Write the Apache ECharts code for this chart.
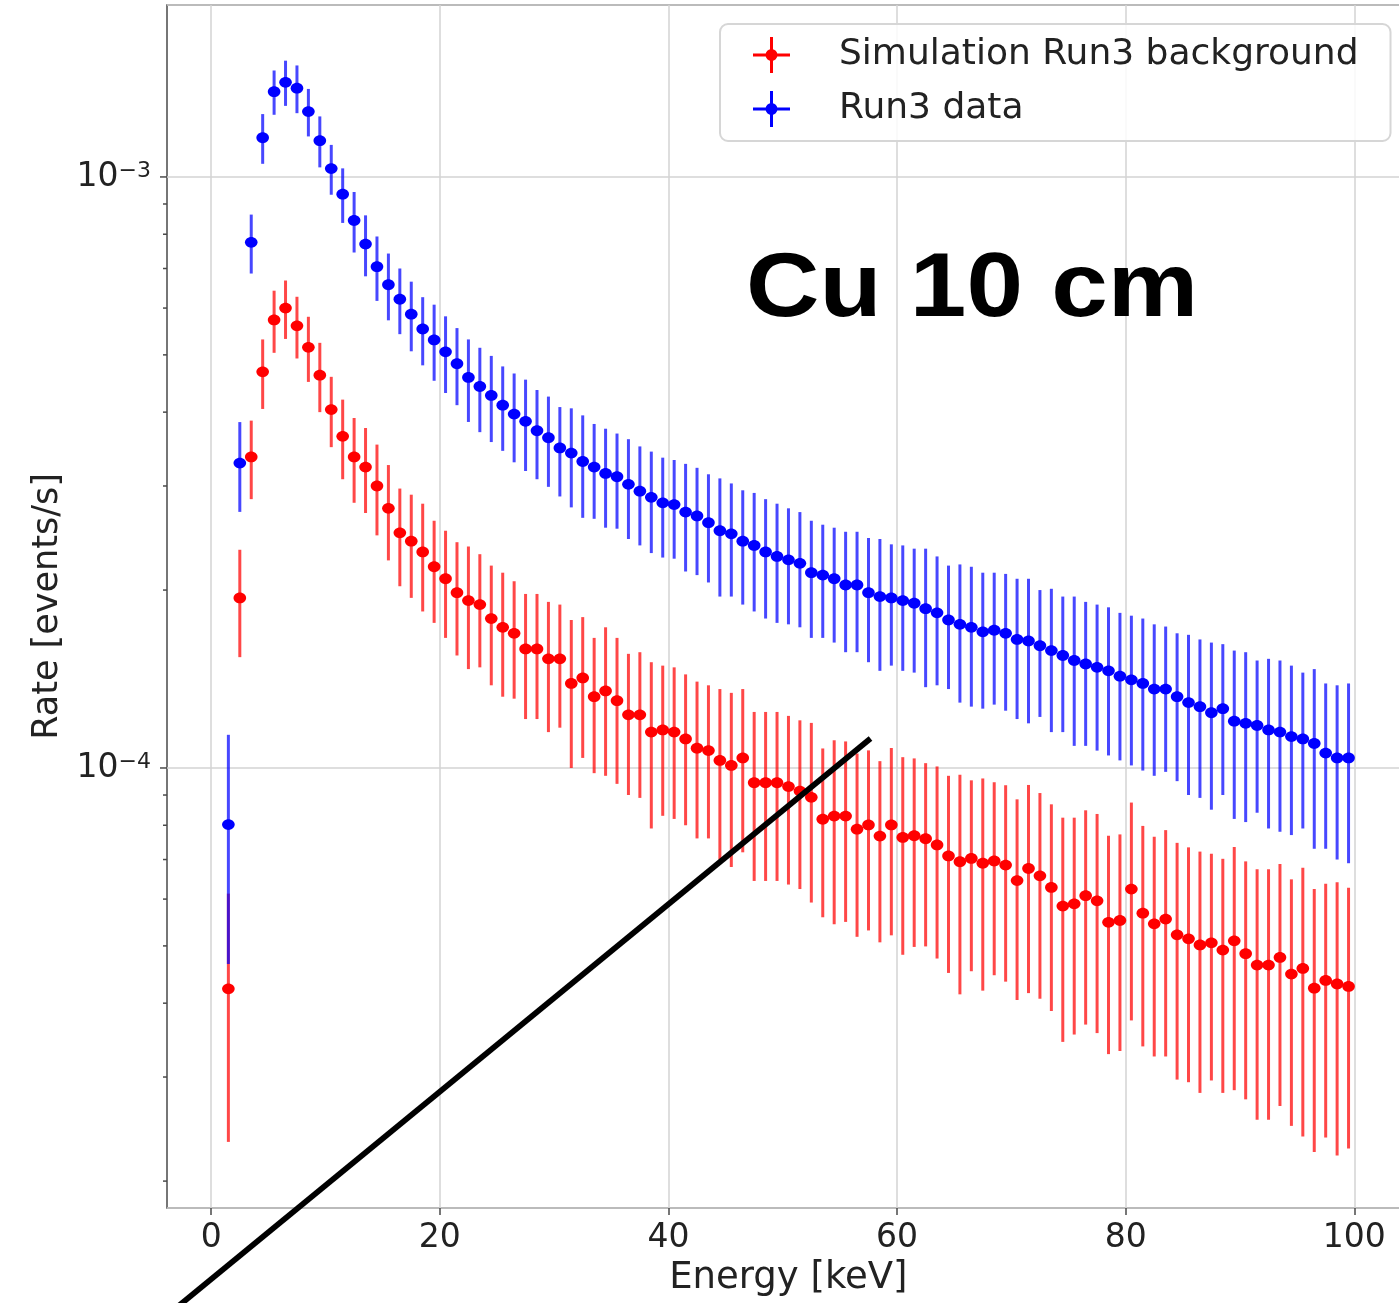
<!DOCTYPE html>
<html>
<head>
<meta charset="utf-8">
<script src="https://cdn.jsdelivr.net/npm/echarts@6/dist/echarts.min.js"></script>
<style>
html, body { margin: 0; padding: 0; background: #ffffff; }
#chart { width: 1399px; height: 1303px; }
</style>
</head>
<body>
<div id="chart"></div>
<script>
// ---------------- data ----------------
const energy = [
  1.5, 2.5, 3.5, 4.5, 5.5, 6.5, 7.5, 8.5, 9.5, 10.5,
  11.5, 12.5, 13.5, 14.5, 15.5, 16.5, 17.5, 18.5, 19.5, 20.5,
  21.5, 22.5, 23.5, 24.5, 25.5, 26.5, 27.5, 28.5, 29.5, 30.5,
  31.5, 32.5, 33.5, 34.5, 35.5, 36.5, 37.5, 38.5, 39.5, 40.5,
  41.5, 42.5, 43.5, 44.5, 45.5, 46.5, 47.5, 48.5, 49.5, 50.5,
  51.5, 52.5, 53.5, 54.5, 55.5, 56.5, 57.5, 58.5, 59.5, 60.5,
  61.5, 62.5, 63.5, 64.5, 65.5, 66.5, 67.5, 68.5, 69.5, 70.5,
  71.5, 72.5, 73.5, 74.5, 75.5, 76.5, 77.5, 78.5, 79.5, 80.5,
  81.5, 82.5, 83.5, 84.5, 85.5, 86.5, 87.5, 88.5, 89.5, 90.5,
  91.5, 92.5, 93.5, 94.5, 95.5, 96.5, 97.5, 98.5, 99.5
];

// Simulation Run3 background (red), events/s
const simRate = [
  4.23e-5, 1.94e-4, 3.36e-4, 4.68e-4, 5.73e-4, 6.00e-4, 5.60e-4, 5.15e-4, 4.62e-4, 4.04e-4,
  3.64e-4, 3.36e-4, 3.23e-4, 3.00e-4, 2.75e-4, 2.50e-4, 2.42e-4, 2.32e-4, 2.19e-4, 2.09e-4,
  1.98e-4, 1.92e-4, 1.89e-4, 1.79e-4, 1.73e-4, 1.69e-4, 1.59e-4, 1.59e-4, 1.53e-4, 1.53e-4,
  1.39e-4, 1.42e-4, 1.32e-4, 1.35e-4, 1.30e-4, 1.23e-4, 1.23e-4, 1.15e-4, 1.16e-4, 1.15e-4,
  1.12e-4, 1.08e-4, 1.07e-4, 1.03e-4, 1.01e-4, 1.04e-4, 9.44e-5, 9.44e-5, 9.44e-5, 9.30e-5,
  9.14e-5, 8.92e-5, 8.19e-5, 8.29e-5, 8.29e-5, 7.88e-5, 8.01e-5, 7.67e-5, 8.01e-5, 7.63e-5,
  7.68e-5, 7.59e-5, 7.41e-5, 7.10e-5, 6.94e-5, 7.03e-5, 6.90e-5, 6.96e-5, 6.85e-5, 6.45e-5,
  6.76e-5, 6.57e-5, 6.28e-5, 5.84e-5, 5.89e-5, 6.08e-5, 5.96e-5, 5.48e-5, 5.52e-5, 6.24e-5,
  5.68e-5, 5.45e-5, 5.55e-5, 5.22e-5, 5.14e-5, 5.02e-5, 5.06e-5, 4.92e-5, 5.10e-5, 4.85e-5,
  4.64e-5, 4.64e-5, 4.78e-5, 4.48e-5, 4.58e-5, 4.24e-5, 4.37e-5, 4.31e-5, 4.27e-5
];
const simErr = [
  1.90e-5, 4.0e-5, 5.1e-5, 6.3e-5, 6.9e-5, 6.8e-5, 6.7e-5, 6.5e-5, 6.2e-5, 5.5e-5,
  5.6e-5, 5.5e-5, 5.3e-5, 5.25e-5, 5.05e-5, 4.7e-5, 4.8e-5, 4.8e-5, 4.3e-5, 4.3e-5,
  4.3e-5, 4.5e-5, 4.1e-5, 4.1e-5, 4.1e-5, 3.8e-5, 3.8e-5, 3.8e-5, 3.8e-5, 3.6e-5,
  3.9e-5, 3.8e-5, 3.4e-5, 3.8e-5, 3.6e-5, 3.3e-5, 3.4e-5, 3.6e-5, 3.3e-5, 3.3e-5,
  3.2e-5, 3.2e-5, 3.1e-5, 3.3e-5, 3.3e-5, 3.2e-5, 3.0e-5, 3.0e-5, 3.0e-5, 2.95e-5,
  2.9e-5, 3.0e-5, 2.6e-5, 2.85e-5, 2.8e-5, 2.7e-5, 2.7e-5, 2.6e-5, 2.8e-5, 2.8e-5,
  2.7e-5, 2.6e-5, 2.65e-5, 2.6e-5, 2.8e-5, 2.5e-5, 2.7e-5, 2.5e-5, 2.5e-5, 2.4e-5,
  2.6e-5, 2.5e-5, 2.4e-5, 2.4e-5, 2.35e-5, 2.4e-5, 2.4e-5, 2.2e-5, 2.2e-5, 2.5e-5,
  2.3e-5, 2.2e-5, 2.3e-5, 2.25e-5, 2.2e-5, 2.2e-5, 2.1e-5, 2.1e-5, 2.25e-5, 2.1e-5,
  2.1e-5, 2.1e-5, 2.1e-5, 2.0e-5, 2.2e-5, 2.0e-5, 2.0e-5, 2.1e-5, 2.0e-5
];

// Run3 data (blue), events/s
const dataRate = [
  8.02e-5, 3.28e-4, 7.75e-4, 1.165e-3, 1.394e-3, 1.446e-3, 1.413e-3, 1.290e-3, 1.152e-3, 1.033e-3,
  9.35e-4, 8.44e-4, 7.70e-4, 7.05e-4, 6.57e-4, 6.21e-4, 5.86e-4, 5.53e-4, 5.30e-4, 5.06e-4,
  4.83e-4, 4.58e-4, 4.42e-4, 4.27e-4, 4.11e-4, 3.97e-4, 3.86e-4, 3.72e-4, 3.62e-4, 3.48e-4,
  3.41e-4, 3.30e-4, 3.23e-4, 3.15e-4, 3.11e-4, 3.02e-4, 2.94e-4, 2.87e-4, 2.81e-4, 2.79e-4,
  2.71e-4, 2.67e-4, 2.60e-4, 2.52e-4, 2.49e-4, 2.42e-4, 2.38e-4, 2.32e-4, 2.28e-4, 2.25e-4,
  2.22e-4, 2.14e-4, 2.12e-4, 2.09e-4, 2.04e-4, 2.04e-4, 1.98e-4, 1.95e-4, 1.94e-4, 1.92e-4,
  1.90e-4, 1.86e-4, 1.83e-4, 1.78e-4, 1.75e-4, 1.73e-4, 1.70e-4, 1.71e-4, 1.69e-4, 1.65e-4,
  1.64e-4, 1.61e-4, 1.58e-4, 1.55e-4, 1.52e-4, 1.50e-4, 1.48e-4, 1.46e-4, 1.43e-4, 1.41e-4,
  1.39e-4, 1.36e-4, 1.36e-4, 1.32e-4, 1.29e-4, 1.27e-4, 1.24e-4, 1.26e-4, 1.20e-4, 1.19e-4,
  1.18e-4, 1.16e-4, 1.15e-4, 1.13e-4, 1.12e-4, 1.10e-4, 1.06e-4, 1.04e-4, 1.04e-4
];
const dataErr = [
  3.36e-5, 5.68e-5, 8.86e-5, 1.125e-4, 1.20e-4, 1.27e-4, 1.31e-4, 1.19e-4, 1.14e-4, 1.00e-4,
  9.9e-5, 9.9e-5, 9.1e-5, 8.8e-5, 8.5e-5, 7.9e-5, 7.9e-5, 7.3e-5, 7.8e-5, 7.5e-5,
  7.2e-5, 7.3e-5, 7.2e-5, 7.1e-5, 6.7e-5, 6.8e-5, 6.8e-5, 6.4e-5, 6.3e-5, 6.0e-5,
  6.5e-5, 6.5e-5, 5.9e-5, 6.0e-5, 5.7e-5, 5.8e-5, 5.6e-5, 5.6e-5, 5.4e-5, 5.3e-5,
  5.6e-5, 5.5e-5, 5.4e-5, 5.7e-5, 5.4e-5, 5.3e-5, 5.4e-5, 5.3e-5, 5.2e-5, 5.0e-5,
  4.9e-5, 4.8e-5, 4.6e-5, 4.6e-5, 4.7e-5, 4.7e-5, 4.7e-5, 4.9e-5, 4.5e-5, 4.6e-5,
  4.5e-5, 4.9e-5, 4.5e-5, 4.2e-5, 4.6e-5, 4.6e-5, 4.4e-5, 4.3e-5, 4.4e-5, 4.4e-5,
  4.5e-5, 3.9e-5, 4.3e-5, 4.0e-5, 4.3e-5, 4.1e-5, 4.1e-5, 4.1e-5, 4.0e-5, 4.0e-5,
  4.0e-5, 3.9e-5, 3.75e-5, 3.7e-5, 3.9e-5, 3.8e-5, 3.9e-5, 3.6e-5, 3.8e-5, 3.8e-5,
  3.4e-5, 3.7e-5, 3.7e-5, 3.6e-5, 3.3e-5, 3.7e-5, 3.3e-5, 3.4e-5, 3.5e-5
];

const seriesNames = ['Simulation Run3 background', 'Run3 data'];
const xTicks = [0, 20, 40, 60, 80, 100];
const yMajorTicks = [1e-4, 1e-3];
const yMinorTicks = [2e-5, 3e-5, 4e-5, 5e-5, 6e-5, 7e-5, 8e-5, 9e-5,
                     2e-4, 3e-4, 4e-4, 5e-4, 6e-4, 7e-4, 8e-4, 9e-4];
const xAxisName = 'Energy [keV]';
const yAxisName = 'Rate [events/s]';
const annotationText = 'Cu 10 cm';

// axis extents
const X_MIN = -3.87, X_MAX = 104.85;
const Y_MIN = 1.801e-5, Y_MAX = 1.954e-3;

// ---------------- chart ----------------
const TEXT = '#222222';
const FRAME = '#4a4a4a';
const GRIDC = '#d3d3d3';

function zip3(a, b, c) { return a.map((v, i) => [v, b[i], c[i]]); }

function errRender(color) {
  return function (params, api) {
    const x = api.value(0), v = api.value(1), s = api.value(2);
    const p = api.coord([x, v]);
    const t = api.coord([x, v + s]);
    const b = api.coord([x, v - s]);
    return {
      type: 'group',
      children: [
        { type: 'line', shape: { x1: p[0], y1: t[1], x2: p[0], y2: b[1] },
          style: { stroke: color, lineWidth: 3, opacity: 0.72 } },
        { type: 'ellipse', shape: { cx: p[0], cy: p[1], rx: 6.3, ry: 5.4 },
          style: { fill: color } }
      ]
    };
  };
}

function tickRender(params, api) {
  const y = api.coord([0, api.value(0)])[1];
  const len = api.value(1);
  const x0 = params.coordSys.x;
  return { type: 'line', shape: { x1: x0 - len, y1: y, x2: x0, y2: y },
           style: { stroke: FRAME, lineWidth: 1.5 } };
}

const tickData = yMajorTicks.map(v => [v, 7]).concat(yMinorTicks.map(v => [v, 4]));

const iconPath = 'path://M0,16.5 L37,16.5 L37,19.5 L0,19.5 Z M17,0 L20,0 L20,36 L17,36 Z M12.5,18 A6,6 0 1 1 24.5,18 A6,6 0 1 1 12.5,18 Z';

const chart = echarts.init(document.getElementById('chart'), null, { renderer: 'canvas' });
chart.setOption({
  animation: false,
  backgroundColor: '#ffffff',
  grid: {
    left: 167, top: 5, width: 1242.7, height: 1203,
    outerBoundsMode: 'none', containLabel: false,
    show: true, borderColor: FRAME, borderWidth: 1.5, backgroundColor: '#ffffff'
  },
  legend: {
    data: seriesNames,
    orient: 'vertical',
    left: 720, top: 24,
    padding: [11, 32, 12, 33],
    itemWidth: 37, itemHeight: 36, itemGap: 14,
    icon: iconPath,
    backgroundColor: 'rgba(255,255,255,0.85)',
    borderColor: '#d6d6d6', borderWidth: 2, borderRadius: 8,
    textStyle: { fontFamily: 'DejaVu Sans', fontSize: 36, color: TEXT, lineHeight: 40, padding: [0, 0, 0, 44] }
  },
  xAxis: {
    type: 'value', min: X_MIN, max: X_MAX,
    name: xAxisName, nameLocation: 'middle', nameGap: 52,
    nameTextStyle: { fontFamily: 'DejaVu Sans', fontSize: 37, color: TEXT },
    axisLine: { show: false },
    axisTick: { show: true, customValues: xTicks, length: 7, lineStyle: { color: FRAME, width: 1.5 } },
    axisLabel: { customValues: xTicks, fontFamily: 'DejaVu Sans', fontSize: 33, color: TEXT, margin: 14 },
    splitLine: { show: true, lineStyle: { color: GRIDC, width: 1.5 } }
  },
  yAxis: {
    type: 'log', min: Y_MIN, max: Y_MAX, logBase: 10,
    name: yAxisName, nameLocation: 'middle', nameGap: 101, nameRotate: 90,
    nameTextStyle: { fontFamily: 'DejaVu Sans', fontSize: 35, color: TEXT },
    axisLine: { show: false },
    axisTick: { show: false },
    axisLabel: {
      margin: 16,
      showMinLabel: false, showMaxLabel: false,
      formatter: function (v) {
        const e = Math.log10(v), r = Math.round(e);
        if (Math.abs(e - r) > 1e-6) return '';
        return '{b|10}{s|\u2212' + Math.abs(r) + '}';
      },
      rich: {
        b: { fontFamily: 'DejaVu Sans', fontSize: 33, color: TEXT },
        s: { fontFamily: 'DejaVu Sans', fontSize: 22, color: TEXT, verticalAlign: 'top' }
      }
    },
    splitLine: { show: true, lineStyle: { color: GRIDC, width: 1.5 } }
  },
  series: [
    {
      name: seriesNames[0], type: 'custom', renderItem: errRender('#ff0000'),
      itemStyle: { color: '#ff0000' },
      encode: { x: 0, y: 1 },
      data: zip3(energy, simRate, simErr), z: 3
    },
    {
      name: seriesNames[1], type: 'custom', renderItem: errRender('#0000ff'),
      itemStyle: { color: '#0000ff' },
      encode: { x: 0, y: 1 },
      data: zip3(energy, dataRate, dataErr), z: 4
    },
    {
      name: 'yTicks', type: 'custom', renderItem: tickRender, silent: true,
      encode: { y: 0 }, clip: false,
      data: tickData, z: 5
    }
  ],
  graphic: [
    {
      type: 'text', x: 746, y: 246, scaleX: 1.13, z: 100,
      style: { text: annotationText, fill: '#000000', font: 'bold 90px "Liberation Sans", Arial, sans-serif', verticalAlign: 'top' }
    },
    {
      type: 'line', z: 100,
      shape: { x1: 173.6, y1: 1310, x2: 870.5, y2: 738.5 },
      style: { stroke: '#000000', lineWidth: 5.7 }
    }
  ]
});
</script>
</body>
</html>
